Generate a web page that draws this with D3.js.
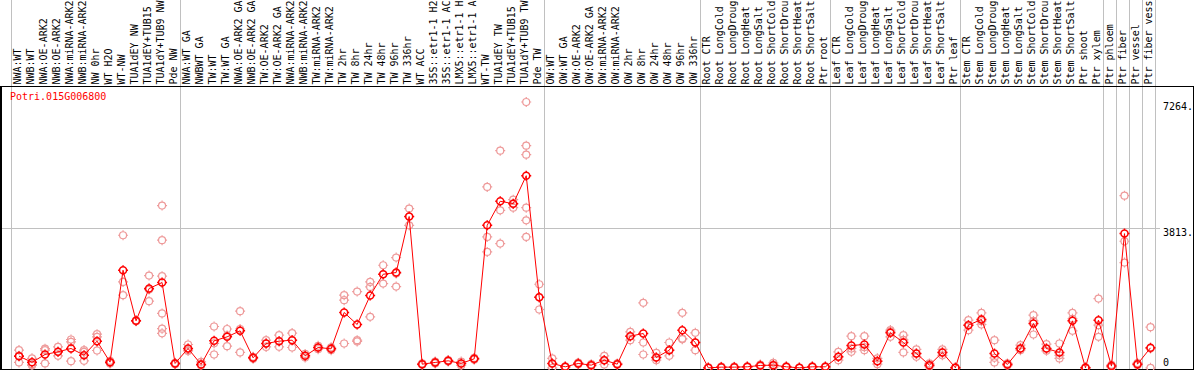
<!DOCTYPE html>
<html>
<head>
<meta charset="utf-8">
<script src="https://cdn.jsdelivr.net/npm/d3@7"></script>
<style>
body { margin: 0; background: #fff; }
text { font-family: "DejaVu Sans Mono", monospace; font-size: 10px; }
</style>
</head>
<body>
<script>
const geneName = "Potri.015G006800";

// labels as shown in the chart (cut to 14 characters)
const samples = [
  "NWA:WT","NWB:WT","NWA:OE-ARK2","NWB:OE-ARK2","NWA:miRNA-ARK2","NWB:miRNA-ARK2","NW 0hr","WT H2O","WT-NW",
  "TUA1dEY NW","TUA1dEY+TUB15","TUA1dY+TUB9 NW","Pde NW",
  "NWA:WT GA","NWBWT GA","TW:WT","TW:WT GA","NWA:OE-ARK2 GA","NWB:OE-ARK2 GA","TW:OE-ARK2","TW:OE-ARK2 GA",
  "NWA:miRNA-ARK2","NWB:miRNA-ARK2","TW:miRNA-ARK2","TW:miRNA-ARK2","TW 2hr","TW 8hr","TW 24hr","TW 48hr","TW 96hr",
  "TW 336hr","WT ACC","35S::etr1-1 H2","35S::etr1-1 AC","LMX5::etr1-1 H","LMX5::etr1-1 A","WT-TW","TUA1dEY TW",
  "TUA1dEY+TUB15","TUA1dY+TUB9 TW","Pde TW",
  "OW:WT","OW:WT GA","OW:OE-ARK2","OW:OE-ARK2 GA","OW:miRNA-ARK2","OW:miRNA-ARK2","OW 2hr","OW 8hr","OW 24hr",
  "OW 48hr","OW 96hr","OW 336hr",
  "Root CTR","Root LongCold","Root LongDroug","Root LongHeat","Root LongSalt","Root ShortCold","Root ShortDrou",
  "Root ShortHeat","Root ShortSalt","Ptr root",
  "Leaf CTR","Leaf LongCold","Leaf LongDroug","Leaf LongHeat","Leaf LongSalt","Leaf ShortCold","Leaf ShortDrou",
  "Leaf ShortHeat","Leaf ShortSalt","Ptr leaf",
  "Stem CTR","Stem LongCold","Stem LongDroug","Stem LongHeat","Stem LongSalt","Stem ShortCold","Stem ShortDrou",
  "Stem ShortHeat","Stem ShortSalt","Ptr shoot","Ptr xylem",
  "Ptr phloem","Ptr fiber","Ptr vessel","Ptr fiber vess"
];

// index where each group starts (last one = end)
const groupBreaks = [0, 13, 41, 53, 63, 73, 84, 85, 86, 87, 88];

const means = [
  319,150,364,437,528,346,728,155,2667,1284,2166,2330,119,
  528,91,737,846,1010,273,664,728,755,328,555,519,1511,1183,1975,2557,2603,4134,100,146,191,118,246,3895,4550,4486,5250,1929,
  118,27,118,73,209,100,865,937,282,482,1028,692,
  0,18,18,27,64,73,27,0,27,27,
  300,610,637,182,956,692,391,73,419,0,
  1165,1320,391,91,528,1210,528,419,1283,0,1301,
  46,3667,100,546
];

const replicates = [
  [485,330,146],[260,100,64],[522,485,119],[573,437,328],[774,710,182],[485,437,191],[919,846,473],[191,155,119],
  [3622,2348,1984],[1300,1284,1270],[2521,2139,1821],[4434,3487,2503,1487,1069,942],[137,119,100],
  [637,485,460],[164,91,64],[1129,669,364],[1060,880,592],[1548,1060,419],[300,273,250],[755,664,570],[892,728,573],
  [948,760,555],[380,328,280],[600,555,510],[560,519,480],[1984,1847,664],[2084,755,720],[2348,2211,1392],
  [2803,2557,2302],[3012,2580,2220],[4352,4134,3895],[120,100,80],[170,146,120],[210,191,170],[170,118,64],
  [270,246,220],[4943,3576,3167],[5933,4304,3394],[4595,4486,4377],[7264,6070,5824,4377,4031,3576],[2284,1929,1593],
  [255,118,0],[40,27,15],[140,118,95],[100,73,45],[328,209,90],[120,100,80],[983,865,755],[1775,692,364],
  [410,282,209],[692,482,328],[1502,801,780],[956,692,482],
  [10,0,0],[30,18,8],[30,18,8],[40,27,15],[90,64,40],[137,73,10],[40,27,15],[5,0,0],[40,27,15],[40,27,15],
  [437,300,209],[865,530,437],[865,565,482],[260,182,100],[1030,990,846],[892,765,419],[501,391,300],[120,73,30],
  [501,419,340],[10,0,0],
  [1301,1165,1028],[1502,1275,1183],[755,272,146],[120,91,62],[619,528,482],[1438,1280,910],[646,528,464],
  [664,340,255],[1502,1340,1010],[10,0,0],[1893,1165,846],
  [80,46,10],[4705,3458,2876],[130,100,70],[1110,530,0]
];

const yTicks = [0, 3813, 7264];
const yMax = 7264;

function main(){
  const width = 1194;
  const height = 370;
  const plotTop = 86;

  const svg = d3.select("body").append("svg")
    .attr("width", width)
    .attr("height", height);

  const x = d3.scaleBand()
    .domain(d3.range(samples.length))
    .range([10.5, 1155])
    .padding(0);

  const y = d3.scaleLinear()
    .domain([0, yMax])
    .range([367.8, 102]);

  const cx = function(i){ return x(i) + 8.5; };

  // grid lines
  svg.append("line")
    .attr("x1", 0).attr("x2", 1160)
    .attr("y1", Math.round(y(yTicks[1])) + 0.5).attr("y2", Math.round(y(yTicks[1])) + 0.5)
    .attr("stroke", "#c0c0c0");

  svg.selectAll(".sep")
    .data(groupBreaks)
    .enter().append("line")
    .attr("class", "sep")
    .attr("x1", function(d){ return Math.round(d === samples.length ? 1155 : x(d)) + 0.5; })
    .attr("x2", function(d){ return Math.round(d === samples.length ? 1155 : x(d)) + 0.5; })
    .attr("y1", 0).attr("y2", height)
    .attr("stroke", "#c0c0c0");

  // frame
  svg.append("line").attr("x1", 0).attr("x2", width).attr("y1", plotTop + 0.5).attr("y2", plotTop + 0.5).attr("stroke", "#000");
  svg.append("line").attr("x1", 0).attr("x2", width).attr("y1", 369.5).attr("y2", 369.5).attr("stroke", "#000");
  svg.append("line").attr("x1", 1).attr("x2", 1).attr("y1", plotTop).attr("y2", height).attr("stroke", "#000").attr("stroke-width", 2);
  svg.append("line").attr("x1", 1193.5).attr("x2", 1193.5).attr("y1", plotTop).attr("y2", height).attr("stroke", "#000");

  // sample labels
  svg.selectAll(".lab")
    .data(samples)
    .enter().append("text")
    .attr("class", "lab")
    .attr("transform", function(d, i){ return "translate(" + (x(i) + 10.5) + ",84.5) rotate(-90)"; })
    .attr("fill", "#000")
    .attr("textLength", function(d){ return d.length > 13 ? 84 : null; })
    .text(function(d){ return d; });

  // y labels
  svg.selectAll(".ylab")
    .data(yTicks)
    .enter().append("text")
    .attr("class", "ylab")
    .attr("x", 1163)
    .attr("y", function(d){ return d === 0 ? 366 : y(d) + 8; })
    .text(function(d){ return d === 0 ? "0" : d + "."; });

  svg.append("text")
    .attr("x", 10).attr("y", 100)
    .attr("fill", "#ff0000")
    .text(geneName);

  const marker = "M-3.5,0A3.5,3.5 0 1,0 3.5,0A3.5,3.5 0 1,0 -3.5,0" +
    "M0,-5V-3.5M0,3.5V5M-5,0H-3.5M3.5,0H5";

  // replicates
  const reps = [];
  replicates.forEach(function(r, i){
    r.forEach(function(v){ reps.push({i: i, v: v}); });
  });
  svg.selectAll(".rep")
    .data(reps)
    .enter().append("path")
    .attr("class", "rep")
    .attr("d", marker)
    .attr("transform", function(d){ return "translate(" + cx(d.i) + "," + y(d.v) + ")"; })
    .attr("fill", "none")
    .attr("stroke", "#ee9a9a")
    .attr("stroke-width", 1.2);

  // mean line
  const line = d3.line()
    .x(function(d, i){ return cx(i); })
    .y(function(d){ return y(d); });

  svg.append("path")
    .datum(means)
    .attr("d", line)
    .attr("fill", "none")
    .attr("stroke", "#ff0000")
    .attr("stroke-width", 1);

  svg.selectAll(".mean")
    .data(means)
    .enter().append("path")
    .attr("class", "mean")
    .attr("d", marker)
    .attr("transform", function(d, i){ return "translate(" + cx(i) + "," + y(d) + ")"; })
    .attr("fill", "none")
    .attr("stroke", "#ff0000")
    .attr("stroke-width", 1.5);
}
main();
</script>
</body>
</html>
